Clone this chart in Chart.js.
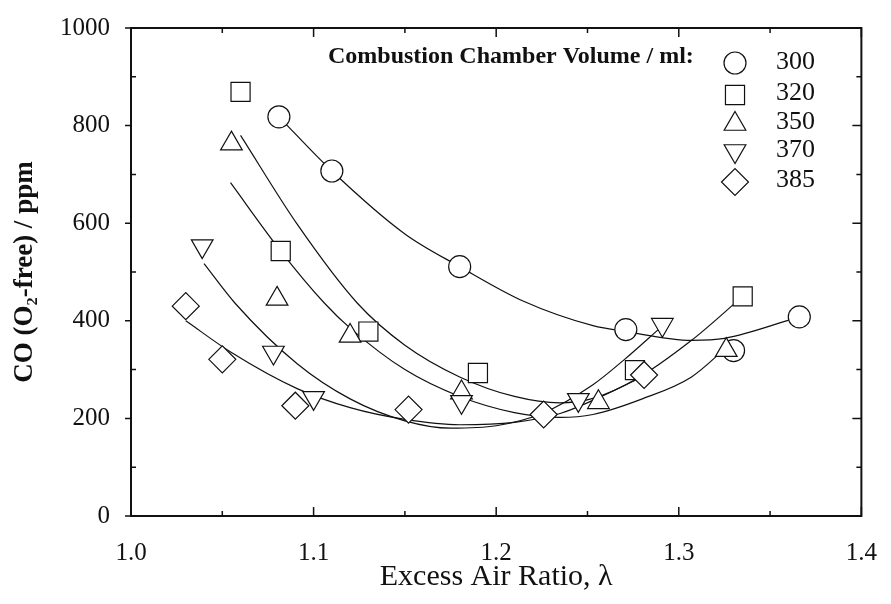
<!DOCTYPE html>
<html>
<head>
<meta charset="utf-8">
<script src="https://cdn.jsdelivr.net/npm/chart.js@4.4.1/dist/chart.umd.min.js"></script>
<style>
  html, body { margin: 0; padding: 0; background: #fff; }
  #wrap { width: 891px; height: 604px; }
</style>
</head>
<body>
<div id="wrap"><canvas id="c" width="891" height="604"></canvas></div>
<script>
// CO (O2-free) vs excess air ratio, one series per combustion chamber volume.

const VOLUMES = ["300", "320", "350", "370", "385"];

// measured points
const LAMBDA_300 = [1.081, 1.110, 1.180, 1.271, 1.330, 1.366];
const CO_300 = [818, 707, 511, 382, 339, 408];
const LAMBDA_320 = [1.060, 1.082, 1.130, 1.190, 1.276, 1.335];
const CO_320 = [869, 543, 378, 293, 299, 450];
const LAMBDA_350 = [1.055, 1.080, 1.120, 1.181, 1.256, 1.326];
const CO_350 = [763, 445, 369, 253, 233, 340];
const LAMBDA_370 = [1.039, 1.078, 1.100, 1.181, 1.245, 1.291];
const CO_370 = [553, 335, 242, 234, 238, 392];
const LAMBDA_385 = [1.030, 1.050, 1.090, 1.152, 1.226, 1.281];
const CO_385 = [430, 321, 226, 218, 208, 289];

// fitted curves
const FIT_LAMBDA_300 = [1.081, 1.110, 1.150, 1.180, 1.215, 1.253, 1.271, 1.307, 1.325, 1.366];
const FIT_CO_300 = [818, 707, 578, 511, 440, 390, 378, 360, 364, 408];
const FIT_LAMBDA_320 = [1.060, 1.091, 1.124, 1.150, 1.180, 1.210, 1.235, 1.253, 1.276, 1.307, 1.335];
const FIT_CO_320 = [780, 598, 436, 350, 285, 245, 232, 241, 279, 360, 450];
const FIT_LAMBDA_350 = [1.0545, 1.082, 1.106, 1.120, 1.150, 1.180, 1.210, 1.235, 1.253, 1.280, 1.307, 1.326];
const FIT_CO_350 = [683, 543, 436, 385, 300, 245, 212, 202, 208, 240, 285, 345];
const FIT_LAMBDA_370 = [1.040, 1.057, 1.091, 1.120, 1.150, 1.175, 1.200, 1.225, 1.253, 1.270, 1.290];
const FIT_CO_370 = [517, 436, 312, 240, 195, 180, 185, 210, 269, 320, 386];
const FIT_LAMBDA_385 = [1.030, 1.055, 1.091, 1.120, 1.150, 1.180, 1.210, 1.235, 1.253, 1.281];
const FIT_CO_385 = [400, 335, 261, 222, 198, 187, 192, 210, 237, 287];

const X_TICKS = [1.0, 1.1, 1.2, 1.3, 1.4];
const Y_TICKS = [0, 200, 400, 600, 800, 1000];

const SERIF = "'Liberation Serif', 'Times New Roman', serif";

const MARKERS = [
  { style: "circle", radius: 11, rotation: 0 },
  { style: "rect", radius: 13.5, rotation: 0 },
  { style: "triangle", radius: 12.5, rotation: 0 },
  { style: "triangle", radius: 12.5, rotation: 180 },
  { style: "rectRot", radius: 13.5, rotation: 0 },
];

const points = [
  [LAMBDA_300, CO_300], [LAMBDA_320, CO_320], [LAMBDA_350, CO_350],
  [LAMBDA_370, CO_370], [LAMBDA_385, CO_385],
];
const fits = [
  [FIT_LAMBDA_300, FIT_CO_300], [FIT_LAMBDA_320, FIT_CO_320], [FIT_LAMBDA_350, FIT_CO_350],
  [FIT_LAMBDA_370, FIT_CO_370], [FIT_LAMBDA_385, FIT_CO_385],
];

const zip = (xs, ys) => xs.map((x, i) => ({ x, y: ys[i] }));

const datasets = [];
fits.forEach(([xs, ys], i) => {
  datasets.push({
    label: "fit " + VOLUMES[i],
    data: zip(xs, ys),
    showLine: true,
    borderColor: "#111",
    borderWidth: 1.2,
    pointRadius: 0,
    cubicInterpolationMode: "monotone",
    order: 10,
  });
});
points.forEach(([xs, ys], i) => {
  const m = MARKERS[i];
  datasets.push({
    label: VOLUMES[i],
    data: zip(xs, ys),
    showLine: false,
    pointStyle: m.style,
    pointRadius: m.radius,
    pointRotation: m.rotation,
    pointBackgroundColor: "#fff",
    pointBorderColor: "#111",
    pointBorderWidth: 1.2,
    order: 4 - i, // later volumes sit on top
  });
});

// frame plus inward ticks on all four sides (major + minor halfway)
const frame = {
  id: "frame",
  afterDatasetsDraw(chart) {
    const { ctx, chartArea: a, scales } = chart;
    const xs = scales.x, ys = scales.y;
    ctx.save();
    ctx.strokeStyle = "#111";
    ctx.lineWidth = 2;
    ctx.strokeRect(a.left, a.top, a.right - a.left, a.bottom - a.top);
    ctx.lineWidth = 1.5;
    ctx.beginPath();
    const xv = xs.ticks.map((t) => t.value);
    xv.forEach((v, i) => {
      const p = xs.getPixelForValue(v);
      ctx.moveTo(p, a.bottom); ctx.lineTo(p, a.bottom - 9);
      ctx.moveTo(p, a.top); ctx.lineTo(p, a.top + 9);
      if (i < xv.length - 1) {
        const q = xs.getPixelForValue((v + xv[i + 1]) / 2);
        ctx.moveTo(q, a.bottom); ctx.lineTo(q, a.bottom - 5);
        ctx.moveTo(q, a.top); ctx.lineTo(q, a.top + 5);
      }
    });
    const yv = ys.ticks.map((t) => t.value);
    yv.forEach((v, i) => {
      const p = ys.getPixelForValue(v);
      ctx.moveTo(a.left - 6, p); ctx.lineTo(a.left, p);
      ctx.moveTo(a.right, p); ctx.lineTo(a.right - 9, p);
      if (i < yv.length - 1) {
        const q = ys.getPixelForValue((v + yv[i + 1]) / 2);
        ctx.moveTo(a.left, q); ctx.lineTo(a.left + 5, q);
        ctx.moveTo(a.right, q); ctx.lineTo(a.right - 5, q);
      }
    });
    ctx.stroke();
    ctx.restore();
  },
};

// legend block in the upper right of the plot
const legendBlock = {
  id: "legendBlock",
  afterDraw(chart) {
    const { ctx } = chart;
    ctx.save();
    ctx.fillStyle = "#111";
    ctx.font = "bold 24px " + SERIF;
    ctx.textBaseline = "middle";
    ctx.textAlign = "left";
    ctx.fillText("Combustion Chamber Volume / ml:", 328, 57);
    const rowY = [63, 95, 124, 151, 182];
    const textY = [62, 93, 122, 150, 180];
    ctx.font = "26px " + SERIF;
    VOLUMES.forEach((v, i) => {
      const m = MARKERS[i];
      ctx.fillStyle = "#fff";
      ctx.strokeStyle = "#111";
      ctx.lineWidth = 1.2;
      Chart.helpers.drawPoint(ctx, {
        pointStyle: m.style, radius: m.radius, rotation: m.rotation, borderWidth: 1.2,
      }, 735, rowY[i]);
      ctx.fillStyle = "#111";
      ctx.fillText(v, 776, textY[i]);
    });
    ctx.restore();
  },
};

new Chart(document.getElementById("c"), {
  type: "scatter",
  data: { datasets },
  options: {
    responsive: false,
    animation: false,
    devicePixelRatio: 1,
    layout: { padding: { top: 21, right: 18, left: 0, bottom: 0 } },
    plugins: { legend: { display: false }, tooltip: { enabled: false } },
    scales: {
      x: {
        type: "linear",
        min: 1.0,
        max: 1.4,
        afterBuildTicks: (s) => { s.ticks = X_TICKS.map((value) => ({ value })); },
        afterFit: (s) => { s.height = 88; },
        grid: { display: false },
        border: { display: false },
        ticks: {
          padding: 14,
          color: "#111",
          font: { family: SERIF, size: 25 },
          callback: (v) => Number(v).toFixed(1),
        },
        title: {
          display: true,
          text: "Excess Air Ratio, λ",
          color: "#111",
          font: { family: SERIF, size: 30 },
          padding: { top: 0, bottom: 9 },
        },
      },
      y: {
        type: "linear",
        min: 0,
        max: 1000,
        afterBuildTicks: (s) => { s.ticks = Y_TICKS.map((value) => ({ value })); },
        afterFit: (s) => { s.width = 131; },
        grid: { display: false },
        border: { display: false },
        ticks: {
          padding: 13,
          color: "#111",
          font: { family: SERIF, size: 25 },
          callback: (v) => String(v),
        },
        title: {
          display: true,
          text: "CO (O₂-free) / ppm",
          color: "#111",
          font: { family: SERIF, size: 27, weight: "bold" },
          padding: { top: 9, bottom: 0 },
        },
      },
    },
  },
  plugins: [frame, legendBlock],
});
</script>
</body>
</html>
